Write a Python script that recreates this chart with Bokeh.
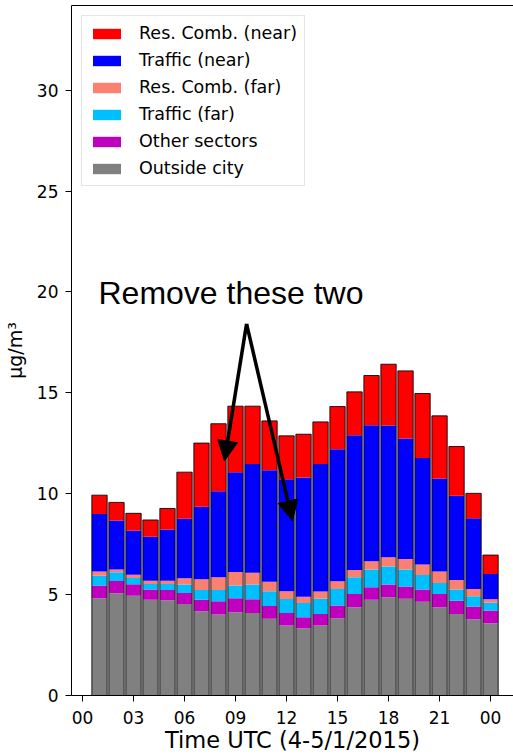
from bokeh.plotting import figure
from bokeh.models import (ColumnDataSource, Legend, LegendItem, Arrow, NormalHead,
                          Label, LinearAxis, FixedTicker, Range1d)
from bokeh.embed import file_html
from bokeh.resources import INLINE

# Hourly source contributions (µg/m³), hours 01 .. 24 (00 of next day)
hours = list(range(1, 25))
outside_city = [4.82, 5.07, 4.95, 4.75, 4.72, 4.54, 4.17, 4.01, 4.13, 4.09, 3.80, 3.47,
                3.33, 3.47, 3.83, 4.37, 4.75, 4.87, 4.79, 4.65, 4.37, 4.04, 3.78, 3.58]
other_sectors = [0.63, 0.61, 0.56, 0.51, 0.51, 0.54, 0.58, 0.66, 0.69, 0.68, 0.64, 0.62,
                 0.55, 0.57, 0.63, 0.66, 0.61, 0.63, 0.61, 0.60, 0.66, 0.66, 0.63, 0.63]
traffic_far = [0.49, 0.43, 0.32, 0.27, 0.30, 0.42, 0.48, 0.56, 0.63, 0.73, 0.73, 0.69,
               0.71, 0.75, 0.82, 0.83, 0.88, 0.89, 0.85, 0.72, 0.55, 0.55, 0.51, 0.39]
res_comb_far = [0.20, 0.13, 0.16, 0.16, 0.16, 0.31, 0.53, 0.63, 0.67, 0.59, 0.47, 0.39,
                0.31, 0.36, 0.38, 0.36, 0.41, 0.46, 0.52, 0.52, 0.56, 0.48, 0.36, 0.17]
traffic_near = [2.85, 2.44, 2.19, 2.18, 2.54, 2.95, 3.60, 4.26, 4.94, 5.38, 5.53, 5.55,
                5.91, 6.32, 6.55, 6.68, 6.75, 6.53, 5.97, 5.28, 4.62, 4.17, 3.50, 1.25]
res_comb_near = [0.94, 0.89, 0.85, 0.83, 1.04, 2.31, 3.15, 3.35, 3.28, 2.87, 2.44, 2.15,
                 2.14, 2.09, 2.11, 2.15, 2.46, 3.04, 3.35, 3.20, 3.10, 2.44, 1.24, 0.94]

series_names = ["Outside city", "Other sectors", "Traffic (far)",
                "Res. Comb. (far)", "Traffic (near)", "Res. Comb. (near)"]
series_keys = ["outside", "other", "tfar", "rfar", "tnear", "rnear"]
series_colors = ["#808080", "#bf00bf", "#00bfff", "#fa8072", "#0000ff", "#ff0000"]

tick_hours = [0, 3, 6, 9, 12, 15, 18, 21, 24]
tick_labels = ["00", "03", "06", "09", "12", "15", "18", "21", "00"]

data = dict(hour=hours, outside=outside_city, other=other_sectors, tfar=traffic_far,
            rfar=res_comb_far, tnear=traffic_near, rnear=res_comb_near)
data["total"] = [sum(v) for v in zip(outside_city, other_sectors, traffic_far,
                                     res_comb_far, traffic_near, res_comb_near)]
src = ColumnDataSource(data)

p = figure(width=513, height=756, output_backend="svg", toolbar_location=None,
           x_range=Range1d(-0.647, 25.35), y_range=Range1d(0, 34.2),
           min_border_left=71, min_border_right=0, min_border_top=5,
           min_border_bottom=61)
p.outline_line_color = None
p.xgrid.visible = False
p.ygrid.visible = False
p.background_fill_color = "white"
p.border_fill_color = "white"

stack = p.vbar_stack(series_keys, x="hour", width=0.9, source=src,
                     fill_color=series_colors, line_color=None)
# thin dark outline around each full bar
p.vbar(x="hour", top="total", width=0.9, source=src, fill_color=None,
       line_color="black", line_width=1, line_alpha=0.85)

# axes
for ax in (p.xaxis[0], p.yaxis[0]):
    ax.axis_line_color = "black"
    ax.axis_line_width = 1
    ax.major_tick_line_color = "black"
    ax.major_tick_out = 6
    ax.major_tick_in = 0
    ax.minor_tick_line_color = None
    ax.major_label_text_font = "DejaVu Sans"
    ax.major_label_text_font_size = "17px"
    ax.major_label_text_color = "black"
    ax.axis_label_text_font = "DejaVu Sans"
    ax.axis_label_text_font_style = "normal"
    ax.axis_label_text_color = "black"

p.xaxis.ticker = FixedTicker(ticks=tick_hours)
p.xaxis.major_label_overrides = {h: lab for h, lab in zip(tick_hours, tick_labels)}
p.xaxis.major_label_standoff = 9
p.xaxis.axis_label = "Time UTC (4-5/1/2015)"
p.xaxis.axis_label_text_font_size = "22.5px"
p.xaxis.axis_label_standoff = 0

p.yaxis.ticker = FixedTicker(ticks=[0, 5, 10, 15, 20, 25, 30])
p.yaxis.major_label_standoff = 7
p.yaxis.axis_label = "µg/m³"
p.yaxis.axis_label_text_font_size = "19px"
p.yaxis.axis_label_standoff = 8

# top spine
top_axis = LinearAxis(ticker=FixedTicker(ticks=[]), major_label_text_font_size="0px",
                      major_tick_out=0, major_tick_in=0, minor_tick_line_color=None,
                      axis_line_color="black", axis_line_width=1)
p.add_layout(top_axis, "above")

# legend, top entry = top of the stack
items = [LegendItem(label=name, renderers=[r])
         for name, r in zip(series_names, stack)][::-1]
legend = Legend(items=items, location="top_left", margin=10, padding=7,
                glyph_width=35, glyph_height=13, label_standoff=15,
                label_height=19, spacing=7,
                label_text_font="DejaVu Sans", label_text_font_size="17.5px",
                label_text_color="black",
                border_line_color="#cccccc", border_line_width=1,
                background_fill_color="white", background_fill_alpha=0.8)
p.add_layout(legend, "center")

# annotation
p.add_layout(Label(x=0.94, y=19.95, text="Remove these two",
                   text_font="Liberation Sans", text_font_size="32px",
                   text_baseline="alphabetic", text_color="black"))
for xe, ye in [(8.35, 11.63), (12.35, 8.66)]:
    p.add_layout(Arrow(end=NormalHead(size=20, fill_color="black", line_color="black"),
                       x_start=9.65, y_start=18.42, x_end=xe, y_end=ye,
                       line_color="black", line_width=3.5))

open("out.html", "w").write(file_html(p, INLINE))
